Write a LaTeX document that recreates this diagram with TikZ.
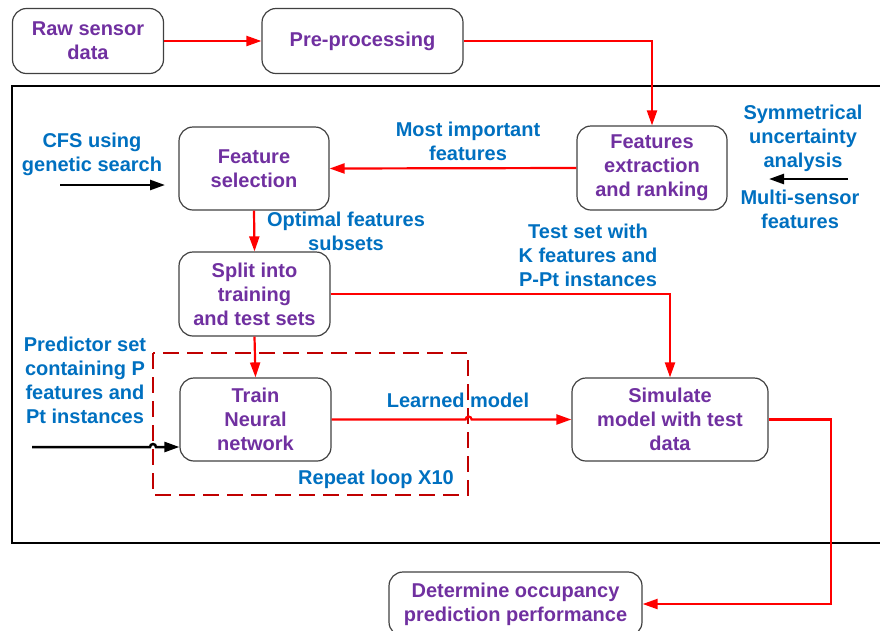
\documentclass[tikz,border=0pt]{standalone}
\usepackage{fontspec}
\setmainfont{Liberation Sans}
\usetikzlibrary{arrows.meta}
\definecolor{stagepurple}{HTML}{7030A0}
\definecolor{noteblue}{HTML}{0070C0}
\definecolor{loopred}{HTML}{C00000}
\begin{document}
\begin{tikzpicture}[x=1pt,y=-1pt,
    stage/.style={draw=black!75,line width=1.2pt,rounded corners=14pt,align=center,
      text=stagepurple,inner sep=0pt,font=\bfseries\fontsize{20}{24}\selectfont},
    note/.style={align=center,text=noteblue,inner sep=0pt,
      font=\bfseries\fontsize{20}{24}\selectfont},
    flow/.style={red,line width=2.2pt,-{Triangle[length=15pt,width=10pt]}},
    feed/.style={black,line width=2.5pt,-{Triangle[length=15pt,width=10pt]}}]
  \useasboundingbox (0,0) rectangle (880,630);
  \draw[line width=2pt] (12,86) rectangle (895,543);

  \node[stage,minimum width=151pt,minimum height=65pt] (raw) at (88,41) {Raw sensor\\data};
  \node[stage,minimum width=201pt,minimum height=65pt] (pre) at (362.5,41) {Pre-processing};
  \node[stage,minimum width=150pt,minimum height=84pt] (feat) at (652,168) {Features\\extraction\\and ranking};
  \node[stage,minimum width=150pt,minimum height=83pt] (sel) at (254,168.5) {Feature\\selection};
  \node[stage,minimum width=151pt,minimum height=84pt] (split) at (254.5,294) {Split into\\training\\and test sets};
  \node[stage,minimum width=151pt,minimum height=83pt] (train) at (255.5,419.5) {Train\\Neural\\network};
  \node[stage,minimum width=196pt,minimum height=83pt] (sim) at (670,419.5) {Simulate\\model with test\\data};
  \node[stage,minimum width=253pt,minimum height=64pt] (det) at (515.5,604) {Determine occupancy\\prediction performance};

  \node[note] (mostlbl) at (468,141) {Most important\\features};
  \node[note] (cfslbl) at (92,154) {CFS using\\genetic search};
  \node[note] (symlbl) at (803,138) {Symmetrical\\uncertainty\\analysis};
  \node[note] (multilbl) at (800,209) {Multi-sensor\\features};
  \node[note] (optlbl) at (346,231) {Optimal features\\subsets};
  \node[note] (testlbl) at (588,255) {Test set with\\K features and\\P-Pt instances};
  \node[note] (predlbl) at (85,380) {Predictor set\\containing P\\features and\\Pt instances};
  \node[note] (learnlbl) at (458,400) {Learned model};
  \node[note] (looplbl) at (376,479) {Repeat loop X10};

  \coordinate (cfsin) at (60,185);
  \coordinate (cfsout) at (165,185);
  \coordinate (symin) at (848,179);
  \coordinate (symout) at (769,179);
  \coordinate (predin) at (32,447);

  \draw[loopred,line width=2pt,dash pattern=on 16pt off 8pt] (153,353) rectangle (468,495);

  \draw[flow] (raw.east) -- (pre.west);
  \draw[flow] (pre.east) -| (feat.north);
  \draw[flow] (feat.west) -- (sel.east);
  \draw[flow] (sel.south) -- (split.north);
  \draw[flow] (split.east) -| (sim.north);
  \draw[flow] (split.south) -- (train.north);
  \draw[flow] (train.east) -- ++(134,0) arc[start angle=180,end angle=360,radius=3] -- (sim.west);
  \draw[flow] (sim.east) -- ++(62,0) |- (det.east);

  \draw[feed] (cfsin) -- (cfsout);
  \draw[feed] (symin) -- (symout);
  \draw[feed] (predin) -- ++(118,0) arc[start angle=180,end angle=360,radius=3] -- (predin -| train.west);
\end{tikzpicture}
\end{document}
